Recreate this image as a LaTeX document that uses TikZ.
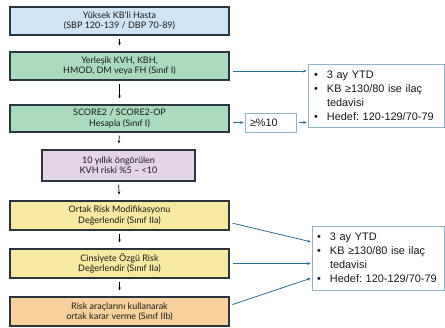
\documentclass[tikz,border=0pt]{standalone}
\usepackage{fontspec}
\setmainfont{Lato}
\newfontfamily\rfont{Liberation Sans}
\usetikzlibrary{arrows.meta,calc}
\frenchspacing
\hbadness=10000 \hfuzz=50pt
\definecolor{cblue}{HTML}{CFE4F4}
\definecolor{cgreen}{HTML}{A9DBBF}
\definecolor{cpurple}{HTML}{E4D4EA}
\definecolor{cyellow}{HTML}{F7E8A2}
\definecolor{corange}{HTML}{F8D19C}
\definecolor{cborder}{HTML}{2B3540}
\definecolor{rborder}{HTML}{8DB3C9}
\definecolor{carrow}{HTML}{2C6E8F}
\tikzset{
  stepbox/.style={draw=cborder, line width=1.1pt, inner sep=0pt, minimum width=219pt,
    align=center, font=\fontsize{9}{10.2}\selectfont, text=black!90},
  notebox/.style={draw=rborder, line width=0.8pt, fill=white, inner xsep=6pt, inner ysep=0pt,
    align=left, font=\rfont\fontsize{10.9}{14}\selectfont, text=black!90},
  varrow/.style={-{Stealth[length=3pt,width=2.6pt]}, line width=0.7pt, black,
    shorten <=3pt, shorten >=6pt},
  harrow/.style={-{Stealth[length=3.5pt,width=3pt]}, line width=0.8pt, carrow,
    shorten <=3pt, shorten >=1pt},
}
\newcommand{\bul}{\makebox[13pt][l]{•}}
\newcommand{\notetext}{\mbox{\bul 3 ay YTD}\\\mbox{\bul KB ≥130/80 ise ilaç}\\\mbox{\hspace*{13pt}tedavisi}\\\mbox{\bul Hedef: 120-129/70-79}}
\begin{document}
\begin{tikzpicture}[x=1pt,y=-1pt]
\useasboundingbox (0,0) rectangle (445,328);
\node[stepbox, fill=cblue, minimum height=28pt] (b1) at (119.5,21) {Yüksek KB'li Hasta\\(SBP 120-139 / DBP 70-89)};
\node[stepbox, fill=cgreen, minimum height=28pt] (b2) at (119.5,66) {Yerleşik KVH, KBH,\\HMOD, DM veya FH (Sınıf I)};
\node[stepbox, fill=cgreen, minimum height=27pt] (b3) at (119.5,118.5) {SCORE2 / SCORE2-OP\\Hesapla (Sınıf I)};
\node[stepbox, fill=cpurple, minimum height=31pt, minimum width=153pt] (b4) at (118.5,165.5) {10 yıllık öngörülen\\KVH riski \%5 – <10};
\node[stepbox, fill=cyellow, minimum height=29pt] (b5) at (119.5,215.5) {Ortak Risk Modifikasyonu\\Değerlendir (Sınıf IIa)};
\node[stepbox, fill=cyellow, minimum height=29pt] (b6) at (119.5,263.5) {Cinsiyete Özgü Risk\\Değerlendir (Sınıf IIa)};
\node[stepbox, fill=corange, minimum height=29pt] (b7) at (119.5,311.5) {Risk araçlarını kullanarak\\ortak karar verme (Sınıf IIb)};

\node[notebox, minimum width=136pt, minimum height=63pt, text width=124pt] (r1) at (376,95.5) {\notetext};
\node[notebox, minimum width=132pt, minimum height=64pt, text width=122pt, inner xsep=5pt] (r2) at (378,258) {\notetext};
\node[notebox, minimum width=51pt, minimum height=19pt, text width=41pt, inner xsep=5pt] (ge) at (270.5,122.5) {≥\%10};

\foreach \a/\b in {b1/b2,b2/b3,b3/b4,b4/b5,b5/b6,b6/b7}
  \draw[varrow] (\a.south) -- (\b.north);

\draw[harrow] ([yshift=-5pt]b2.east) -- ([yshift=-5pt]b2.east -| r1.west);
\draw[harrow] (b3.east |- ge.west) -- (ge.west);
\draw[harrow] (ge.east) -- (ge.east -| r1.west);
\draw[harrow] ([yshift=-7pt]b5.east) -- ([yshift=16pt]r2.west);
\draw[harrow] (b6.east) -- (b6.east -| r2.west);
\draw[harrow] ([yshift=6pt]b7.east) -- ([yshift=-20pt]r2.west);
\end{tikzpicture}
\end{document}
